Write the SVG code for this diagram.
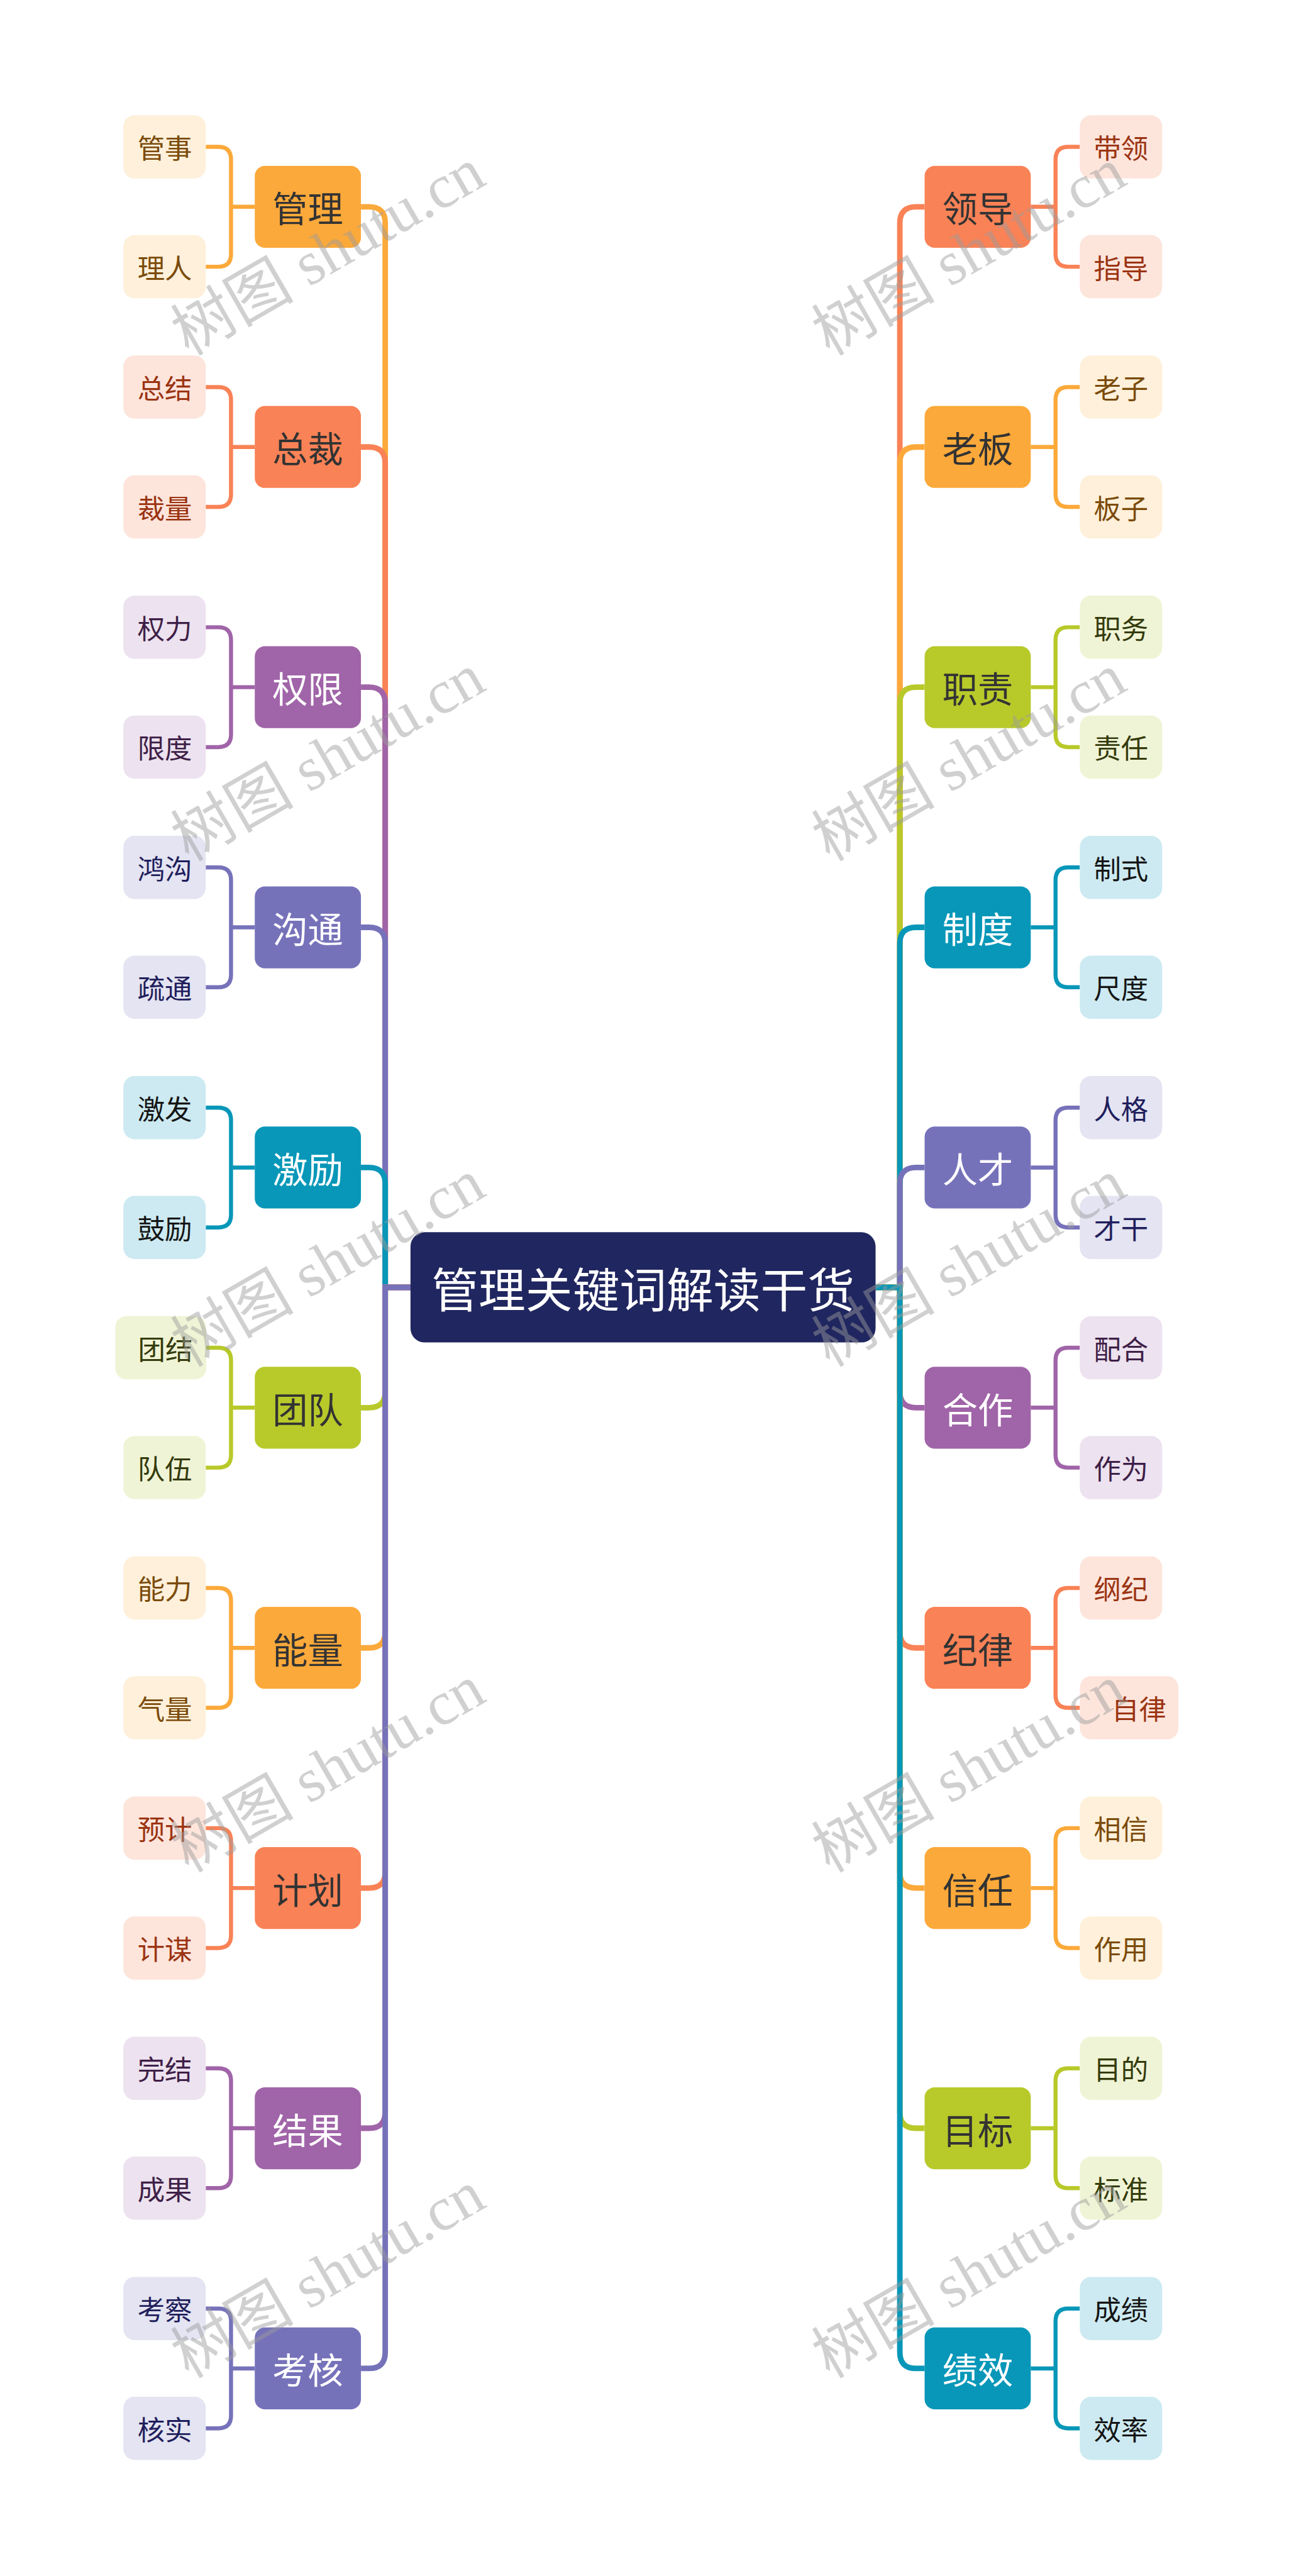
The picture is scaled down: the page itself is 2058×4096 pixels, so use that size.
<svg xmlns="http://www.w3.org/2000/svg" width="2058" height="4096" viewBox="0 0 2058 4096">
<style>
text{font-family:"Noto Sans CJK SC","Noto Sans",sans-serif;text-anchor:middle;dominant-baseline:central}
.m{font-size:70px}
.l{font-size:54px}
.root{font-size:93px;fill:#ffffff}
.tr{fill:none;stroke-width:11}
.br{fill:none;stroke-width:8}
.wm{font-family:"Liberation Serif","Noto Sans CJK SC",serif;font-size:122px;fill:#9c9c9c;opacity:0.47;text-anchor:start;dominant-baseline:alphabetic}
.or .mr{fill:#FBA93A}.or .lr{fill:#FEF0DA}.or .lt{fill:#7B4B0A}.or .mt{fill:#333333}
.co .mr{fill:#F98256}.co .lr{fill:#FDE5DC}.co .lt{fill:#9B3412}.co .mt{fill:#333333}
.pu .mr{fill:#A064A8}.pu .lr{fill:#EDE2EF}.pu .lt{fill:#3E1F47}.pu .mt{fill:#ffffff}
.bp .mr{fill:#7672BA}.bp .lr{fill:#E4E4F2}.bp .lt{fill:#1F1E5C}.bp .mt{fill:#ffffff}
.te .mr{fill:#0897B8}.te .lr{fill:#CDEAF2}.te .lt{fill:#151515}.te .mt{fill:#ffffff}
.gr .mr{fill:#B8C92A}.gr .lr{fill:#F0F4D6}.gr .lt{fill:#343B0C}.gr .mt{fill:#333333}
.s-or{stroke:#FBA93A}.s-co{stroke:#F98256}.s-pu{stroke:#A064A8}.s-bp{stroke:#7672BA}.s-te{stroke:#0897B8}.s-gr{stroke:#B8C92A}
</style>
<rect width="2058" height="4096" fill="#ffffff"/>
<g transform="scale(0.804)">
<g id="connectors">
<path class="tr s-or" d="M812,2546 H762 V441 Q762,409 730,409 H714"/>
<path class="tr s-co" d="M812,2546 H762 V916 Q762,884 730,884 H714"/>
<path class="tr s-pu" d="M812,2546 H762 V1391 Q762,1359 730,1359 H714"/>
<path class="tr s-bp" d="M812,2546 H762 V1866 Q762,1834 730,1834 H714"/>
<path class="tr s-te" d="M812,2546 H762 V2341 Q762,2309 730,2309 H714"/>
<path class="tr s-gr" d="M812,2546 H762 V2752 Q762,2784 730,2784 H714"/>
<path class="tr s-or" d="M812,2546 H762 V3227 Q762,3259 730,3259 H714"/>
<path class="tr s-co" d="M812,2546 H762 V3702 Q762,3734 730,3734 H714"/>
<path class="tr s-pu" d="M812,2546 H762 V4177 Q762,4209 730,4209 H714"/>
<path class="tr s-bp" d="M812,2546 H762 V4652 Q762,4684 730,4684 H714"/>
<path class="tr s-co" d="M1732,2546 H1780 V441 Q1780,409 1812,409 H1829"/>
<path class="tr s-or" d="M1732,2546 H1780 V916 Q1780,884 1812,884 H1829"/>
<path class="tr s-gr" d="M1732,2546 H1780 V1391 Q1780,1359 1812,1359 H1829"/>
<path class="tr s-te" d="M1732,2546 H1780 V1866 Q1780,1834 1812,1834 H1829"/>
<path class="tr s-bp" d="M1732,2546 H1780 V2341 Q1780,2309 1812,2309 H1829"/>
<path class="tr s-pu" d="M1732,2546 H1780 V2752 Q1780,2784 1812,2784 H1829"/>
<path class="tr s-co" d="M1732,2546 H1780 V3227 Q1780,3259 1812,3259 H1829"/>
<path class="tr s-or" d="M1732,2546 H1780 V3702 Q1780,3734 1812,3734 H1829"/>
<path class="tr s-gr" d="M1732,2546 H1780 V4177 Q1780,4209 1812,4209 H1829"/>
<path class="tr s-te" d="M1732,2546 H1780 V4652 Q1780,4684 1812,4684 H1829"/>
<g id="lb">
<path class="br s-or" transform="translate(0,409)" d="M407,-118.5 H432 Q457,-118.5 457,-93.5 V93.5 Q457,118.5 432,118.5 H407 M457,0 H504"/>
<path class="br s-co" transform="translate(0,884)" d="M407,-118.5 H432 Q457,-118.5 457,-93.5 V93.5 Q457,118.5 432,118.5 H407 M457,0 H504"/>
<path class="br s-pu" transform="translate(0,1359)" d="M407,-118.5 H432 Q457,-118.5 457,-93.5 V93.5 Q457,118.5 432,118.5 H407 M457,0 H504"/>
<path class="br s-bp" transform="translate(0,1834)" d="M407,-118.5 H432 Q457,-118.5 457,-93.5 V93.5 Q457,118.5 432,118.5 H407 M457,0 H504"/>
<path class="br s-te" transform="translate(0,2309)" d="M407,-118.5 H432 Q457,-118.5 457,-93.5 V93.5 Q457,118.5 432,118.5 H407 M457,0 H504"/>
<path class="br s-gr" transform="translate(0,2784)" d="M407,-118.5 H432 Q457,-118.5 457,-93.5 V93.5 Q457,118.5 432,118.5 H407 M457,0 H504"/>
<path class="br s-or" transform="translate(0,3259)" d="M407,-118.5 H432 Q457,-118.5 457,-93.5 V93.5 Q457,118.5 432,118.5 H407 M457,0 H504"/>
<path class="br s-co" transform="translate(0,3734)" d="M407,-118.5 H432 Q457,-118.5 457,-93.5 V93.5 Q457,118.5 432,118.5 H407 M457,0 H504"/>
<path class="br s-pu" transform="translate(0,4209)" d="M407,-118.5 H432 Q457,-118.5 457,-93.5 V93.5 Q457,118.5 432,118.5 H407 M457,0 H504"/>
<path class="br s-bp" transform="translate(0,4684)" d="M407,-118.5 H432 Q457,-118.5 457,-93.5 V93.5 Q457,118.5 432,118.5 H407 M457,0 H504"/>
</g>
<g id="rb">
<path class="br s-co" transform="translate(0,409)" d="M2136,-118.5 H2113 Q2088,-118.5 2088,-93.5 V93.5 Q2088,118.5 2113,118.5 H2136 M2088,0 H2039"/>
<path class="br s-or" transform="translate(0,884)" d="M2136,-118.5 H2113 Q2088,-118.5 2088,-93.5 V93.5 Q2088,118.5 2113,118.5 H2136 M2088,0 H2039"/>
<path class="br s-gr" transform="translate(0,1359)" d="M2136,-118.5 H2113 Q2088,-118.5 2088,-93.5 V93.5 Q2088,118.5 2113,118.5 H2136 M2088,0 H2039"/>
<path class="br s-te" transform="translate(0,1834)" d="M2136,-118.5 H2113 Q2088,-118.5 2088,-93.5 V93.5 Q2088,118.5 2113,118.5 H2136 M2088,0 H2039"/>
<path class="br s-bp" transform="translate(0,2309)" d="M2136,-118.5 H2113 Q2088,-118.5 2088,-93.5 V93.5 Q2088,118.5 2113,118.5 H2136 M2088,0 H2039"/>
<path class="br s-pu" transform="translate(0,2784)" d="M2136,-118.5 H2113 Q2088,-118.5 2088,-93.5 V93.5 Q2088,118.5 2113,118.5 H2136 M2088,0 H2039"/>
<path class="br s-co" transform="translate(0,3259)" d="M2136,-118.5 H2113 Q2088,-118.5 2088,-93.5 V93.5 Q2088,118.5 2113,118.5 H2136 M2088,0 H2039"/>
<path class="br s-or" transform="translate(0,3734)" d="M2136,-118.5 H2113 Q2088,-118.5 2088,-93.5 V93.5 Q2088,118.5 2113,118.5 H2136 M2088,0 H2039"/>
<path class="br s-gr" transform="translate(0,4209)" d="M2136,-118.5 H2113 Q2088,-118.5 2088,-93.5 V93.5 Q2088,118.5 2113,118.5 H2136 M2088,0 H2039"/>
<path class="br s-te" transform="translate(0,4684)" d="M2136,-118.5 H2113 Q2088,-118.5 2088,-93.5 V93.5 Q2088,118.5 2113,118.5 H2136 M2088,0 H2039"/>
</g>
</g>
<g id="root">
<rect x="812" y="2437" width="920" height="218" rx="28" fill="#20265F"/>
<text class="root" x="1272" y="2546">管理关键词解读干货</text>
</g>
<g id="n-guanli" class="or" transform="translate(0,409)">
<rect class="mr" x="504" y="-81" width="210" height="162" rx="20"/><text class="m mt" x="609" y="0">管理</text>
<rect class="lr" x="244" y="-181" width="163" height="125" rx="22"/><text class="l lt" x="326" y="-118.5">管事</text>
<rect class="lr" x="244" y="56" width="163" height="125" rx="22"/><text class="l lt" x="326" y="118.5">理人</text>
</g>
<g id="n-zongcai" class="co" transform="translate(0,884)">
<rect class="mr" x="504" y="-81" width="210" height="162" rx="20"/><text class="m mt" x="609" y="0">总裁</text>
<rect class="lr" x="244" y="-181" width="163" height="125" rx="22"/><text class="l lt" x="326" y="-118.5">总结</text>
<rect class="lr" x="244" y="56" width="163" height="125" rx="22"/><text class="l lt" x="326" y="118.5">裁量</text>
</g>
<g id="n-quanxian" class="pu" transform="translate(0,1359)">
<rect class="mr" x="504" y="-81" width="210" height="162" rx="20"/><text class="m mt" x="609" y="0">权限</text>
<rect class="lr" x="244" y="-181" width="163" height="125" rx="22"/><text class="l lt" x="326" y="-118.5">权力</text>
<rect class="lr" x="244" y="56" width="163" height="125" rx="22"/><text class="l lt" x="326" y="118.5">限度</text>
</g>
<g id="n-goutong" class="bp" transform="translate(0,1834)">
<rect class="mr" x="504" y="-81" width="210" height="162" rx="20"/><text class="m mt" x="609" y="0">沟通</text>
<rect class="lr" x="244" y="-181" width="163" height="125" rx="22"/><text class="l lt" x="326" y="-118.5">鸿沟</text>
<rect class="lr" x="244" y="56" width="163" height="125" rx="22"/><text class="l lt" x="326" y="118.5">疏通</text>
</g>
<g id="n-jili" class="te" transform="translate(0,2309)">
<rect class="mr" x="504" y="-81" width="210" height="162" rx="20"/><text class="m mt" x="609" y="0">激励</text>
<rect class="lr" x="244" y="-181" width="163" height="125" rx="22"/><text class="l lt" x="326" y="-118.5">激发</text>
<rect class="lr" x="244" y="56" width="163" height="125" rx="22"/><text class="l lt" x="326" y="118.5">鼓励</text>
</g>
<g id="n-tuandui" class="gr" transform="translate(0,2784)">
<rect class="mr" x="504" y="-81" width="210" height="162" rx="20"/><text class="m mt" x="609" y="0">团队</text>
<rect class="lr" x="228" y="-181" width="180" height="125" rx="22"/><text class="l lt" x="327" y="-118.5">团结</text>
<rect class="lr" x="244" y="56" width="163" height="125" rx="22"/><text class="l lt" x="326" y="118.5">队伍</text>
</g>
<g id="n-nengliang" class="or" transform="translate(0,3259)">
<rect class="mr" x="504" y="-81" width="210" height="162" rx="20"/><text class="m mt" x="609" y="0">能量</text>
<rect class="lr" x="244" y="-181" width="163" height="125" rx="22"/><text class="l lt" x="326" y="-118.5">能力</text>
<rect class="lr" x="244" y="56" width="163" height="125" rx="22"/><text class="l lt" x="326" y="118.5">气量</text>
</g>
<g id="n-jihua" class="co" transform="translate(0,3734)">
<rect class="mr" x="504" y="-81" width="210" height="162" rx="20"/><text class="m mt" x="609" y="0">计划</text>
<rect class="lr" x="244" y="-181" width="163" height="125" rx="22"/><text class="l lt" x="326" y="-118.5">预计</text>
<rect class="lr" x="244" y="56" width="163" height="125" rx="22"/><text class="l lt" x="326" y="118.5">计谋</text>
</g>
<g id="n-jieguo" class="pu" transform="translate(0,4209)">
<rect class="mr" x="504" y="-81" width="210" height="162" rx="20"/><text class="m mt" x="609" y="0">结果</text>
<rect class="lr" x="244" y="-181" width="163" height="125" rx="22"/><text class="l lt" x="326" y="-118.5">完结</text>
<rect class="lr" x="244" y="56" width="163" height="125" rx="22"/><text class="l lt" x="326" y="118.5">成果</text>
</g>
<g id="n-kaohe" class="bp" transform="translate(0,4684)">
<rect class="mr" x="504" y="-81" width="210" height="162" rx="20"/><text class="m mt" x="609" y="0">考核</text>
<rect class="lr" x="244" y="-181" width="163" height="125" rx="22"/><text class="l lt" x="326" y="-118.5">考察</text>
<rect class="lr" x="244" y="56" width="163" height="125" rx="22"/><text class="l lt" x="326" y="118.5">核实</text>
</g>
<g id="n-lingdao" class="co" transform="translate(0,409)">
<rect class="mr" x="1829" y="-81" width="210" height="162" rx="20"/><text class="m mt" x="1934" y="0">领导</text>
<rect class="lr" x="2136" y="-181" width="163" height="125" rx="22"/><text class="l lt" x="2217.5" y="-118.5">带领</text>
<rect class="lr" x="2136" y="56" width="163" height="125" rx="22"/><text class="l lt" x="2217.5" y="118.5">指导</text>
</g>
<g id="n-laoban" class="or" transform="translate(0,884)">
<rect class="mr" x="1829" y="-81" width="210" height="162" rx="20"/><text class="m mt" x="1934" y="0">老板</text>
<rect class="lr" x="2136" y="-181" width="163" height="125" rx="22"/><text class="l lt" x="2217.5" y="-118.5">老子</text>
<rect class="lr" x="2136" y="56" width="163" height="125" rx="22"/><text class="l lt" x="2217.5" y="118.5">板子</text>
</g>
<g id="n-zhize" class="gr" transform="translate(0,1359)">
<rect class="mr" x="1829" y="-81" width="210" height="162" rx="20"/><text class="m mt" x="1934" y="0">职责</text>
<rect class="lr" x="2136" y="-181" width="163" height="125" rx="22"/><text class="l lt" x="2217.5" y="-118.5">职务</text>
<rect class="lr" x="2136" y="56" width="163" height="125" rx="22"/><text class="l lt" x="2217.5" y="118.5">责任</text>
</g>
<g id="n-zhidu" class="te" transform="translate(0,1834)">
<rect class="mr" x="1829" y="-81" width="210" height="162" rx="20"/><text class="m mt" x="1934" y="0">制度</text>
<rect class="lr" x="2136" y="-181" width="163" height="125" rx="22"/><text class="l lt" x="2217.5" y="-118.5">制式</text>
<rect class="lr" x="2136" y="56" width="163" height="125" rx="22"/><text class="l lt" x="2217.5" y="118.5">尺度</text>
</g>
<g id="n-rencai" class="bp" transform="translate(0,2309)">
<rect class="mr" x="1829" y="-81" width="210" height="162" rx="20"/><text class="m mt" x="1934" y="0">人才</text>
<rect class="lr" x="2136" y="-181" width="163" height="125" rx="22"/><text class="l lt" x="2217.5" y="-118.5">人格</text>
<rect class="lr" x="2136" y="56" width="163" height="125" rx="22"/><text class="l lt" x="2217.5" y="118.5">才干</text>
</g>
<g id="n-hezuo" class="pu" transform="translate(0,2784)">
<rect class="mr" x="1829" y="-81" width="210" height="162" rx="20"/><text class="m mt" x="1934" y="0">合作</text>
<rect class="lr" x="2136" y="-181" width="163" height="125" rx="22"/><text class="l lt" x="2217.5" y="-118.5">配合</text>
<rect class="lr" x="2136" y="56" width="163" height="125" rx="22"/><text class="l lt" x="2217.5" y="118.5">作为</text>
</g>
<g id="n-jilv" class="co" transform="translate(0,3259)">
<rect class="mr" x="1829" y="-81" width="210" height="162" rx="20"/><text class="m mt" x="1934" y="0">纪律</text>
<rect class="lr" x="2136" y="-181" width="163" height="125" rx="22"/><text class="l lt" x="2217.5" y="-118.5">纲纪</text>
<rect class="lr" x="2136" y="56" width="195" height="125" rx="22"/><text class="l lt" x="2253" y="118.5">自律</text>
</g>
<g id="n-xinren" class="or" transform="translate(0,3734)">
<rect class="mr" x="1829" y="-81" width="210" height="162" rx="20"/><text class="m mt" x="1934" y="0">信任</text>
<rect class="lr" x="2136" y="-181" width="163" height="125" rx="22"/><text class="l lt" x="2217.5" y="-118.5">相信</text>
<rect class="lr" x="2136" y="56" width="163" height="125" rx="22"/><text class="l lt" x="2217.5" y="118.5">作用</text>
</g>
<g id="n-mubiao" class="gr" transform="translate(0,4209)">
<rect class="mr" x="1829" y="-81" width="210" height="162" rx="20"/><text class="m mt" x="1934" y="0">目标</text>
<rect class="lr" x="2136" y="-181" width="163" height="125" rx="22"/><text class="l lt" x="2217.5" y="-118.5">目的</text>
<rect class="lr" x="2136" y="56" width="163" height="125" rx="22"/><text class="l lt" x="2217.5" y="118.5">标准</text>
</g>
<g id="n-jixiao" class="te" transform="translate(0,4684)">
<rect class="mr" x="1829" y="-81" width="210" height="162" rx="20"/><text class="m mt" x="1934" y="0">绩效</text>
<rect class="lr" x="2136" y="-181" width="163" height="125" rx="22"/><text class="l lt" x="2217.5" y="-118.5">成绩</text>
<rect class="lr" x="2136" y="56" width="163" height="125" rx="22"/><text class="l lt" x="2217.5" y="118.5">效率</text>
</g>
<g id="watermarks">
<text class="wm" transform="translate(373,705) rotate(-30)">树图 shutu.cn</text>
<text class="wm" transform="translate(373,1705) rotate(-30)">树图 shutu.cn</text>
<text class="wm" transform="translate(373,2705) rotate(-30)">树图 shutu.cn</text>
<text class="wm" transform="translate(373,3705) rotate(-30)">树图 shutu.cn</text>
<text class="wm" transform="translate(373,4705) rotate(-30)">树图 shutu.cn</text>
<text class="wm" transform="translate(1641,705) rotate(-30)">树图 shutu.cn</text>
<text class="wm" transform="translate(1641,1705) rotate(-30)">树图 shutu.cn</text>
<text class="wm" transform="translate(1641,2705) rotate(-30)">树图 shutu.cn</text>
<text class="wm" transform="translate(1641,3705) rotate(-30)">树图 shutu.cn</text>
<text class="wm" transform="translate(1641,4705) rotate(-30)">树图 shutu.cn</text>
</g>
</g>
</svg>
